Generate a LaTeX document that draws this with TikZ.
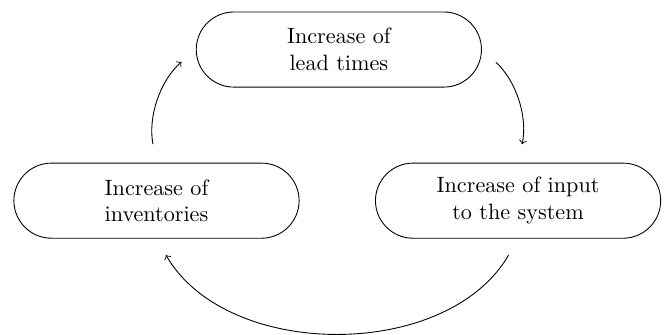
\documentclass[tikz,border=0pt]{standalone}
\usepackage{amsmath}
\usetikzlibrary{positioning}

\begin{document}
\begin{tikzpicture}[
		cyclebox/.style={draw, align=center, minimum width=\BoxWidth cm, minimum height=\BoxHeight cm, rounded corners=0.5*\BoxHeight cm},
		cyclearrow/.style={->, shorten >=0.3cm, shorten <=0.3cm}
	]
			\pgfmathsetmacro{\BoxWidth}{4.52}
			\pgfmathsetmacro{\BoxHeight}{1.19}
			\useasboundingbox (0,0) rectangle (10.586,-5.293);
			
			\node[cyclebox] (LeadTimes) at (5.37,-0.785) {Increase of\\lead times};
			\node[cyclebox] (Inventories) at (2.48,-3.18) {Increase of\\inventories};
			\node[cyclebox] (Input) at (8.21,-3.18) {Increase of input\\to the system};
			
			\draw[cyclearrow] (Inventories.north) to[bend left] (LeadTimes.west);
			\draw[cyclearrow] (LeadTimes.east) to[bend left] (Input.north);
			\draw[cyclearrow] (Input.south) to[bend left=60] (Inventories.south);
		\end{tikzpicture}
\end{document}
